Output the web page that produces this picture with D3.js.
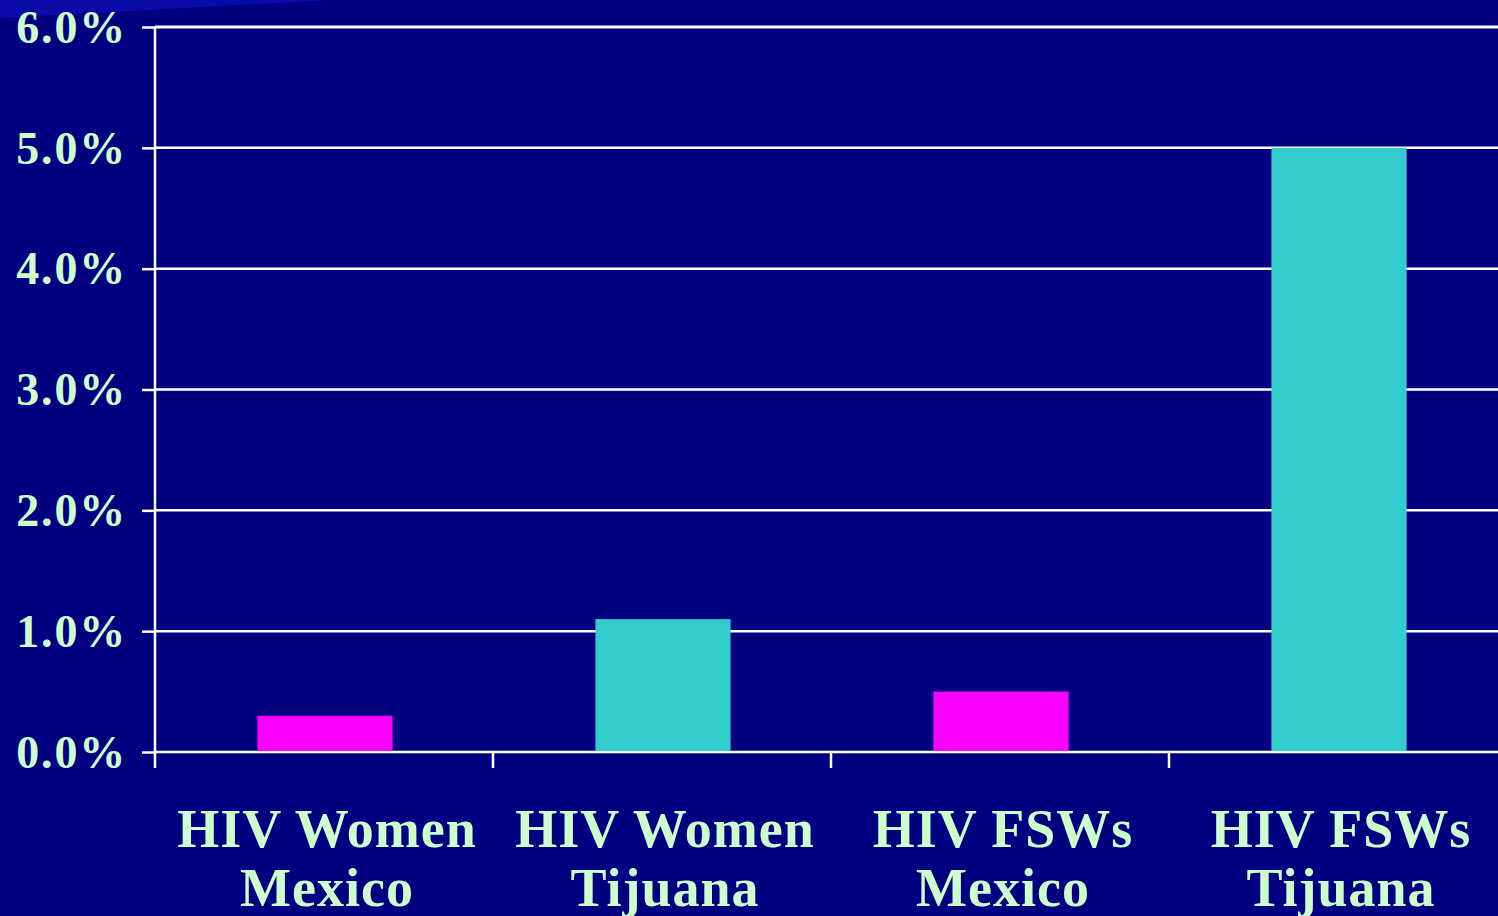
<!DOCTYPE html>
<html>
<head>
<meta charset="utf-8">
<script src="https://cdn.jsdelivr.net/npm/d3@7"></script>
<style>
  html, body { margin: 0; padding: 0; background: #000080; overflow: hidden; }
  svg { display: block; }
</style>
</head>
<body>
<svg id="chart" width="1498" height="916"></svg>
<script>
// chart data
const categories = [["HIV Women", "Mexico"], ["HIV Women", "Tijuana"], ["HIV FSWs", "Mexico"], ["HIV FSWs", "Tijuana"]];
const values = [0.3, 1.1, 0.5, 5.0];
const barColors = ["#FF00FF", "#33CCCC", "#FF00FF", "#33CCCC"];
const yTicks = [0, 1, 2, 3, 4, 5, 6];

const textColor = "#CCFFCC";
const font = "'Liberation Serif', 'Times New Roman', serif";

const svg = d3.select("#chart");

// light wedge in the top-left of the slide background
svg.append("path")
  .attr("d", "M0,0 L330,0 L0,18 Z")
  .attr("fill", "#0A0AA8");

const x0 = 155, x1 = 1507; // plot runs a bit past the right edge
const yTop = 27, yBot = 752;

const x = d3.scaleBand()
  .domain(d3.range(categories.length))
  .range([x0, x1])
  .paddingInner(0.6)
  .paddingOuter(0.3);

const y = d3.scaleLinear().domain([0, 6]).range([yBot, yTop]);

// gridlines
svg.append("g")
  .selectAll("line")
  .data(yTicks)
  .join("line")
  .attr("x1", x0)
  .attr("x2", 1498)
  .attr("y1", d => y(d))
  .attr("y2", d => y(d))
  .attr("stroke", "#fff")
  .attr("stroke-width", d => d === 6 ? 3 : 2.5);

// bars
svg.append("g")
  .selectAll("rect")
  .data(values)
  .join("rect")
  .attr("x", (d, i) => x(i) + 1)
  .attr("width", x.bandwidth())
  .attr("y", d => y(d))
  .attr("height", d => y(0) - y(d) - 1)
  .attr("fill", (d, i) => barColors[i]);

// y axis
const yAxis = svg.append("g")
  .attr("transform", `translate(${x0},0)`)
  .call(d3.axisLeft(y).tickValues(yTicks).tickSize(13).tickPadding(15)
    .tickFormat(d => d.toFixed(1) + "%"));
yAxis.select(".domain").remove();
yAxis.selectAll(".tick line").attr("stroke", "#fff").attr("stroke-width", 2.5);
yAxis.selectAll(".tick text")
  .attr("fill", textColor)
  .attr("font-family", font)
  .attr("font-weight", "bold")
  .attr("font-size", 46)
  .attr("letter-spacing", 1.8)
  .attr("dy", "0.33em");
yAxis.append("line")
  .attr("x1", 0).attr("x2", 0)
  .attr("y1", yTop).attr("y2", yBot + 16)
  .attr("stroke", "#fff").attr("stroke-width", 2.5);

// category boundary ticks below the baseline
svg.append("g")
  .selectAll("line")
  .data(d3.range(1, categories.length))
  .join("line")
  .attr("x1", i => x(i) - x.step() * x.paddingInner() / 2)
  .attr("x2", i => x(i) - x.step() * x.paddingInner() / 2)
  .attr("y1", yBot)
  .attr("y2", yBot + 16)
  .attr("stroke", "#fff")
  .attr("stroke-width", 2.5);

// category labels
const labels = svg.append("g")
  .selectAll("text")
  .data(categories)
  .join("text")
  .attr("x", (d, i) => x(i) + x.bandwidth() / 2 + 3)
  .attr("y", 847)
  .attr("text-anchor", "middle")
  .attr("fill", textColor)
  .attr("font-family", font)
  .attr("font-weight", "bold")
  .attr("font-size", 54)
  .attr("letter-spacing", 1);
labels.selectAll("tspan")
  .data(d => d)
  .join("tspan")
  .attr("x", function () { return this.parentNode.getAttribute("x"); })
  .attr("dy", (d, i) => i === 0 ? 0 : 59)
  .text(d => d);
</script>
</body>
</html>
